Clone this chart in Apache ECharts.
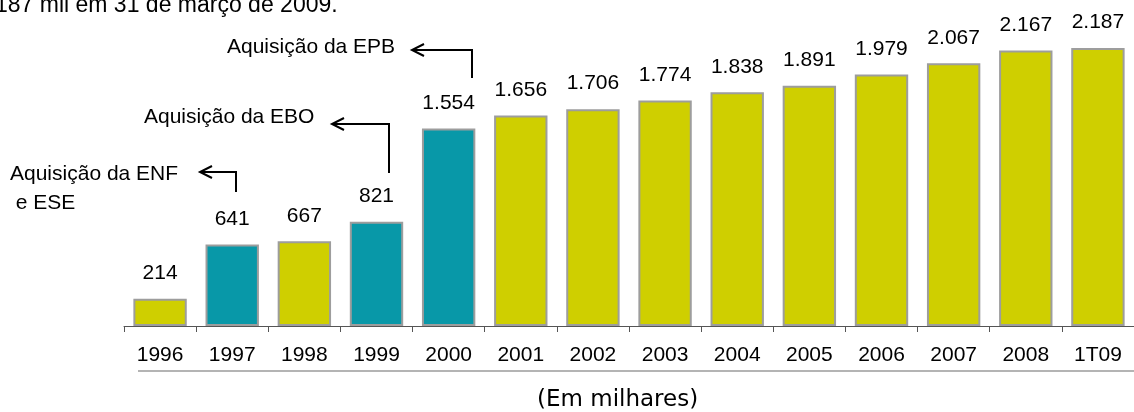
<!DOCTYPE html>
<html>
<head>
<meta charset="utf-8">
<script src="https://cdn.jsdelivr.net/npm/echarts@6/dist/echarts.min.js"></script>
<style>
    html, body { margin: 0; padding: 0; background: #fff; }
    #chart { width: 1134px; height: 412px; }
</style>
</head>
<body>
<div id="chart"></div>
<script>
// clientes (mil) por ano
var categories = ['1996', '1997', '1998', '1999', '2000', '2001', '2002', '2003', '2004', '2005', '2006', '2007', '2008', '1T09'];
var clientes = [214, 641, 667, 821, 1554, 1656, 1706, 1774, 1838, 1891, 1979, 2067, 2167, 2187];
// anos com aquisição (barras em azul)
var aquisicoes = ['1997', '1999', '2000'];

var YELLOW = '#cfcf00',
    TEAL = '#0898a8',
    FONT = '"Liberation Sans", Arial, sans-serif';

function fmt(v) {
    return String(v).replace(/\B(?=(\d{3})+(?!\d))/g, '.');
}

var barData = [];
for (var i = 0; i < clientes.length; i++) {
    barData.push({
        value: clientes[i],
        itemStyle: { color: aquisicoes.indexOf(categories[i]) > -1 ? TEAL : YELLOW }
    });
}

// seta em L: sobe da barra e aponta para a esquerda
function arrow(x, y0, y1, xTip) {
    return [
        { type: 'polyline', shape: { points: [[x, y0], [x, y1], [xTip, y1]] },
          style: { stroke: '#000', lineWidth: 2, fill: null } },
        { type: 'polyline', shape: { points: [[xTip + 12, y1 - 6], [xTip, y1], [xTip + 12, y1 + 6]] },
          style: { stroke: '#000', lineWidth: 2, fill: null } }
    ];
}

var graphics = [
    { type: 'text', left: -5, top: -6,
      style: { text: '187 mil em 31 de março de 2009.', font: '23px ' + FONT, fill: '#000' } },
    { type: 'text', left: 227, top: 37,
      style: { text: 'Aquisição da EPB', font: '21px ' + FONT, fill: '#000' } },
    { type: 'text', left: 144, top: 107,
      style: { text: 'Aquisição da EBO', font: '21px ' + FONT, fill: '#000' } },
    { type: 'text', left: 10, top: 160,
      style: { text: 'Aquisição da ENF\n e ESE', font: '21px ' + FONT, fill: '#000', lineHeight: 29 } },
    { type: 'line', shape: { x1: 138, y1: 371, x2: 1134, y2: 371 },
      style: { stroke: '#b4b4b4', lineWidth: 2 } },
    { type: 'text', left: 537, top: 389,
      style: { text: '(Em milhares)', font: '23px "DejaVu Sans", sans-serif', fill: '#000' } }
].concat(arrow(472, 78, 50, 412), arrow(389, 173, 124, 332), arrow(236, 192, 172, 200));

var chart = echarts.init(document.getElementById('chart'), null, { renderer: 'canvas' });
chart.setOption({
    animation: false,
    backgroundColor: '#fff',
    grid: { left: 124, width: 1013, top: 48, bottom: 86 },
    xAxis: {
        type: 'category',
        data: categories,
        axisLine: { lineStyle: { color: '#555', width: 1 } },
        axisTick: { show: true, length: 6, lineStyle: { color: '#555' } },
        axisLabel: { color: '#000', fontSize: 21, fontFamily: FONT, margin: 19 }
    },
    yAxis: {
        type: 'value',
        min: 0,
        max: 2187,
        show: false,
        splitLine: { show: false }
    },
    series: [{
        type: 'bar',
        data: barData,
        barWidth: '74%',
        itemStyle: { borderColor: '#9d9d9d', borderWidth: 2 },
        label: {
            show: true,
            position: 'top',
            distance: 15,
            color: '#000',
            fontSize: 21,
            fontFamily: FONT,
            formatter: function(p) { return fmt(p.value); }
        }
    }],
    graphic: graphics
});
</script>
</body>
</html>
